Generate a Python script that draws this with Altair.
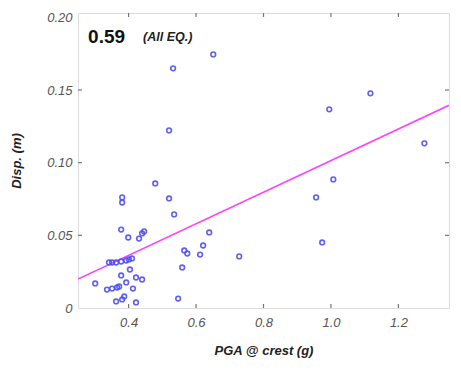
import altair as alt
import pandas as pd

# Data
pga = [0.651, 0.532, 0.520, 0.479, 1.117, 0.995, 1.277, 1.007, 0.956, 0.974,
       0.728, 0.520, 0.535, 0.639, 0.621, 0.565, 0.574, 0.612, 0.559, 0.547,
       0.381, 0.381, 0.378, 0.399, 0.446, 0.440, 0.431, 0.342, 0.351, 0.363,
       0.378, 0.393, 0.401, 0.410, 0.404, 0.378, 0.393, 0.422, 0.440, 0.301,
       0.336, 0.351, 0.366, 0.372, 0.413, 0.363, 0.381, 0.387, 0.422]
disp = [0.1745, 0.1649, 0.1222, 0.0857, 0.1477, 0.1367, 0.1133, 0.0885, 0.0761, 0.0451,
        0.0355, 0.0754, 0.0644, 0.0520, 0.0430, 0.0396, 0.0375, 0.0368, 0.0279, 0.0065,
        0.0761, 0.0726, 0.0540, 0.0485, 0.0527, 0.0513, 0.0478, 0.0313, 0.0313, 0.0313,
        0.0320, 0.0327, 0.0334, 0.0341, 0.0265, 0.0224, 0.0176, 0.0210, 0.0196, 0.0169,
        0.0127, 0.0134, 0.0141, 0.0148, 0.0134, 0.0045, 0.0059, 0.0079, 0.0038]

fit_x = [0.25, 1.35]
fit_y = [0.0199, 0.1395]

x_ticks = [0.4, 0.6, 0.8, 1.0, 1.2]
y_ticks = [0.0, 0.05, 0.10, 0.15, 0.20]

W, H = 371, 295
x_dom = [0.25, 1.35]
y_dom = [0.0, 0.203]

pts = pd.DataFrame({"pga": pga, "disp": disp})
fit = pd.DataFrame({"pga": fit_x, "disp": fit_y})
xt = pd.DataFrame({"v": x_ticks})
yt = pd.DataFrame({"v": y_ticks[1:-1]})

xs = alt.Scale(domain=x_dom, nice=False, zero=False)
ys = alt.Scale(domain=y_dom, nice=False, zero=False)

label_expr = "datum.value == 0 ? '0' : format(datum.value, '.2f')"

xaxis = alt.Axis(values=x_ticks, format=".1f", title="PGA @ crest (g)", grid=False,
                 tickSize=0, domain=False, labelFont="Liberation Sans", labelFontStyle="italic",
                 labelFontSize=13, labelColor="#555555", labelPadding=8,
                 titleFont="Liberation Sans", titleFontStyle="italic", titleFontWeight="bold",
                 titleFontSize=13, titleColor="#222222", titlePadding=15)
yaxis = alt.Axis(values=y_ticks, labelExpr=label_expr, title="Disp. (m)", grid=False,
                 tickSize=0, domain=False, labelFont="Liberation Sans", labelFontStyle="italic",
                 labelFontSize=13, labelColor="#555555", labelPadding=6,
                 titleFont="Liberation Sans", titleFontStyle="italic", titleFontWeight="bold",
                 titleFontSize=13, titleColor="#222222", titlePadding=23)

points = alt.Chart(pts).mark_point(shape="circle", filled=False, size=22, strokeWidth=1.6,
                                   color="#5050f0", opacity=0.9).encode(
    x=alt.X("pga:Q", scale=xs, axis=xaxis),
    y=alt.Y("disp:Q", scale=ys, axis=yaxis),
)

line = alt.Chart(fit).mark_line(color="#ff40ff", strokeWidth=1.6, clip=True).encode(
    x=alt.X("pga:Q", scale=xs),
    y=alt.Y("disp:Q", scale=ys),
)

tick_top = alt.Chart(xt).mark_rule(color="#777777", strokeWidth=1.2).encode(
    x=alt.X("v:Q", scale=xs), y=alt.value(0), y2=alt.value(4))
tick_bot = alt.Chart(xt).mark_rule(color="#777777", strokeWidth=1.2).encode(
    x=alt.X("v:Q", scale=xs), y=alt.value(H), y2=alt.value(H - 4))
tick_left = alt.Chart(yt).mark_rule(color="#777777", strokeWidth=1.2).encode(
    y=alt.Y("v:Q", scale=ys), x=alt.value(0), x2=alt.value(4))
tick_right = alt.Chart(yt).mark_rule(color="#777777", strokeWidth=1.2).encode(
    y=alt.Y("v:Q", scale=ys), x=alt.value(W), x2=alt.value(W - 4))

ann = pd.DataFrame({"pga": [0.28], "disp": [0.1865], "t": ["0.59"]})
ann2 = pd.DataFrame({"pga": [0.443], "disp": [0.1865], "t": ["(All EQ.)"]})
txt1 = alt.Chart(ann).mark_text(align="left", baseline="middle", font="Liberation Sans",
                                fontSize=19, fontWeight="bold", color="#111111").encode(
    x=alt.X("pga:Q", scale=xs), y=alt.Y("disp:Q", scale=ys), text="t:N")
txt2 = alt.Chart(ann2).mark_text(align="left", baseline="middle", font="Liberation Sans",
                                 fontSize=12.5, fontWeight="bold", fontStyle="italic",
                                 color="#222222").encode(
    x=alt.X("pga:Q", scale=xs), y=alt.Y("disp:Q", scale=ys), text="t:N")

chart = alt.layer(line, points, tick_top, tick_bot, tick_left, tick_right, txt1, txt2).properties(
    width=W, height=H,
    autosize=alt.AutoSizeParams(type="none"),
    padding={"left": 70, "top": 5, "right": 4, "bottom": 55},
).configure_view(stroke="#777777", strokeWidth=2).configure(background="white")

chart.save("out.html", embed_options={"renderer": "svg", "actions": False})
